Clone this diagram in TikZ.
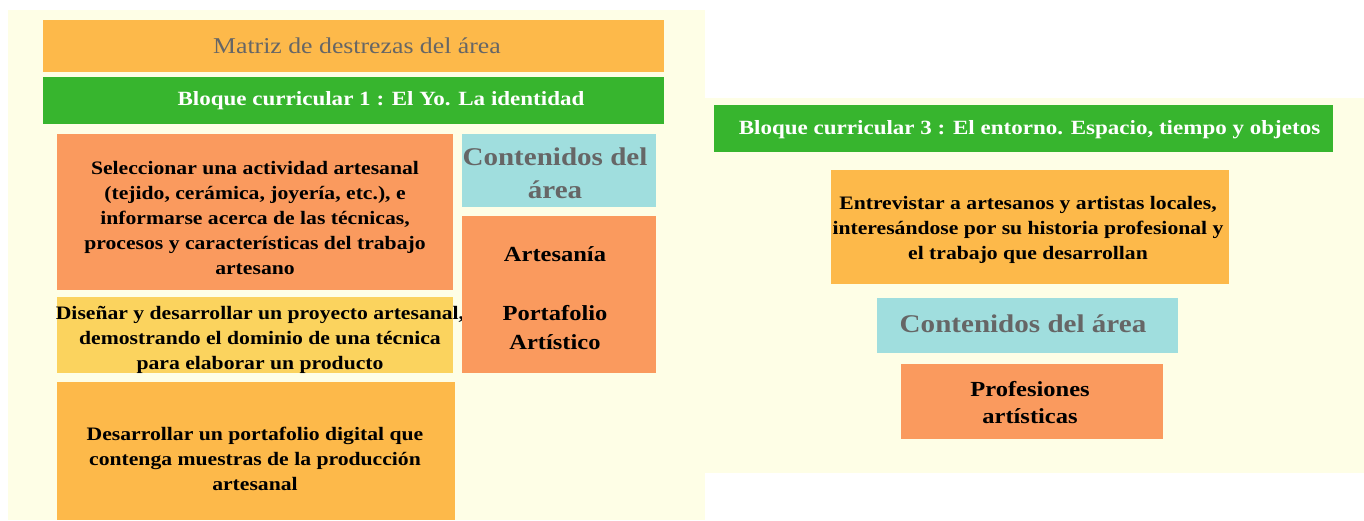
\documentclass[tikz,border=0pt]{standalone}
\usepackage{fontspec}
\setmainfont[FakeStretch=1.14]{Liberation Serif}
\definecolor{cream}{HTML}{FEFEE6}
\definecolor{orangeA}{HTML}{FDB94A}
\definecolor{greenA}{HTML}{37B52E}
\definecolor{salmon}{HTML}{FA9A5E}
\definecolor{cyanA}{HTML}{A0DEDE}
\definecolor{yellowA}{HTML}{FBD35E}
\definecolor{grayT}{HTML}{666666}
\tikzset{
  box/.style={rectangle, inner sep=0pt, draw=none},
  txt/.style={align=center, inner sep=0pt, text=black, font=\bfseries\fontsize{19}{25}\selectfont},
  head/.style={align=center, inner sep=0pt, text=white, font=\bfseries\fontsize{20.2}{24}\selectfont},
  cont/.style={align=center, inner sep=0pt, text=grayT, font=\bfseries\fontsize{25.5}{33}\selectfont},
}
\begin{document}
\begin{tikzpicture}[x=1pt,y=-1pt]
\useasboundingbox (0,0) rectangle (1364,520);
\fill[white] (0,0) rectangle (1364,520);
% panels
\node[box, fill=cream, minimum width=697pt, minimum height=510pt, anchor=north west] (lp) at (8,10) {};
\node[box, fill=cream, minimum width=662pt, minimum height=375pt, anchor=north west] (rp) at (702,98) {};
% left panel
\node[box, fill=orangeA, minimum width=621pt, minimum height=52pt] (title) at (353.5,46) {};
\node[align=center, inner sep=0pt, text=grayT, font=\fontsize{22.6}{26}\selectfont] (titlet) at (357,46) {Matriz de destrezas del área};
\node[box, fill=greenA, minimum width=621pt, minimum height=47pt] (b1) at (353.5,100.5) {};
\node[head] (b1t) at (381,100.5) {Bloque curricular 1 : El Yo. La identidad};
\node[box, fill=salmon, minimum width=396pt, minimum height=156pt] (s1) at (255,212) {};
\node[txt] (s1t) at (255,218) {Seleccionar una actividad artesanal\\(tejido, cerámica, joyería, etc.), e\\informarse acerca de las técnicas,\\procesos y características del trabajo\\artesano};
\node[box, fill=yellowA, minimum width=396pt, minimum height=76pt] (y1) at (255,335) {};
\node[txt] (y1t) at (260,340) {Diseñar y desarrollar un proyecto artesanal,\\demostrando el dominio de una técnica\\para elaborar un producto};
\node[box, fill=orangeA, minimum width=398pt, minimum height=138pt] (o1) at (256,451) {};
\node[txt] (o1t) at (255,458.5) {Desarrollar un portafolio digital que\\contenga muestras de la producción\\artesanal};
\node[box, fill=cyanA, minimum width=194pt, minimum height=73pt] (c1) at (559,170.5) {};
\node[cont] (c1t) at (555,173.5) {Contenidos del\\área};
\node[box, fill=salmon, minimum width=194pt, minimum height=157pt] (s2) at (559,294.5) {};
\node[txt, font=\bfseries\fontsize{21.5}{29}\selectfont] (s2t) at (555,298) {Artesanía\\[30pt]Portafolio\\Artístico};
% right panel
\node[box, fill=greenA, minimum width=619pt, minimum height=47pt] (b3) at (1023.5,128.5) {};
\node[head] (b3t) at (1029.5,130) {Bloque curricular 3 : El entorno. Espacio, tiempo y objetos};
\node[box, fill=orangeA, minimum width=398pt, minimum height=114pt] (o2) at (1030,227) {};
\node[txt] (o2t) at (1028,229.5) {Entrevistar a artesanos y artistas locales,\\interesándose por su historia profesional y\\el trabajo que desarrollan};
\node[box, fill=cyanA, minimum width=301pt, minimum height=55pt] (c2) at (1027.5,325.5) {};
\node[cont] (c2t) at (1023,324) {Contenidos del área};
\node[box, fill=salmon, minimum width=262pt, minimum height=75pt] (s3) at (1032,401.5) {};
\node[txt, font=\bfseries\fontsize{21.5}{27}\selectfont] (s3t) at (1030,403) {Profesiones\\artísticas};
\end{tikzpicture}
\end{document}
